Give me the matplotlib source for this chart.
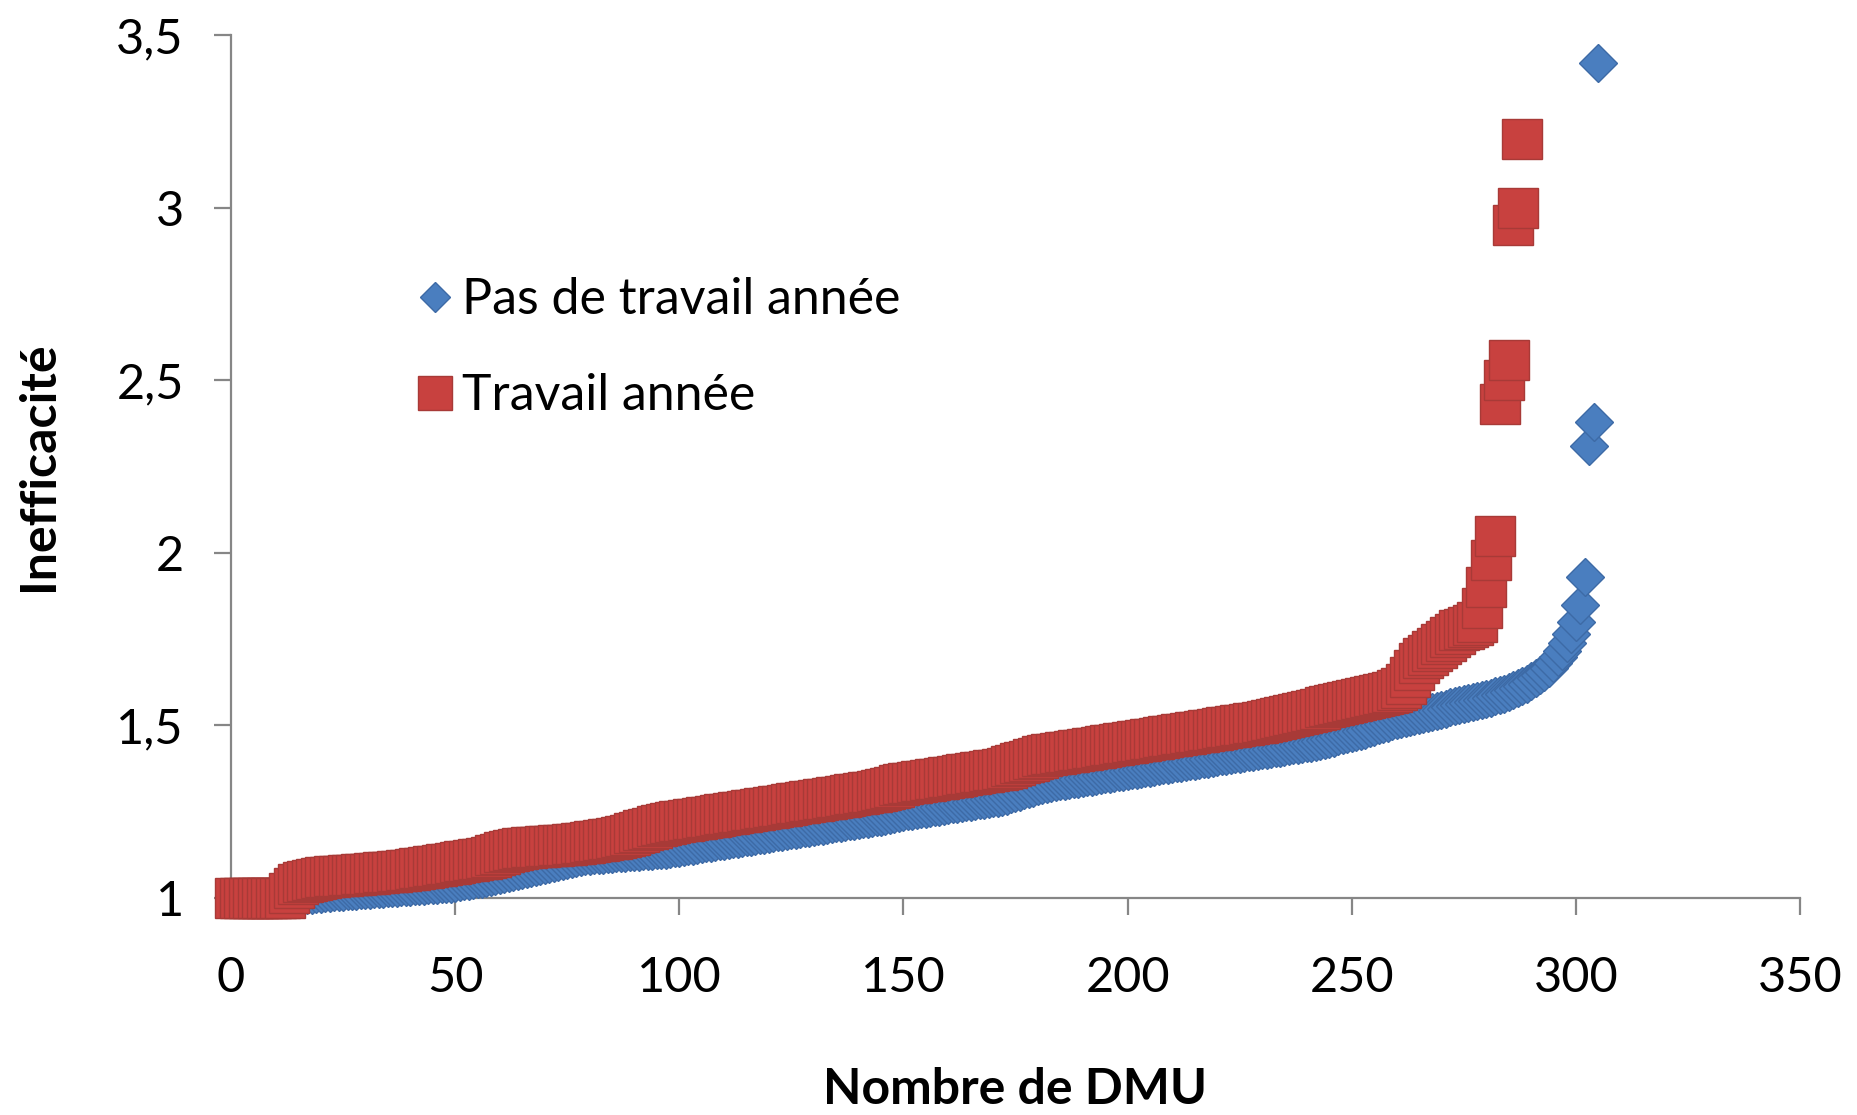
import matplotlib
matplotlib.use('Agg')
import matplotlib.pyplot as plt
from matplotlib.lines import Line2D
import numpy as np

# ---- data ----
series_names = ['Pas de travail année', 'Travail année']

blue_vals = [
    1.000, 1.000, 1.000, 1.000, 1.000, 1.000, 1.000, 1.000, 1.000, 1.000,
    1.000, 1.000, 1.000, 1.003, 1.005, 1.007, 1.009, 1.010, 1.012,
    1.013, 1.014, 1.015, 1.016, 1.017, 1.018, 1.019, 1.020, 1.021, 1.022,
    1.023, 1.024, 1.025, 1.026, 1.027, 1.028, 1.029, 1.030, 1.031, 1.032,
    1.033, 1.034, 1.035, 1.036, 1.037, 1.038, 1.039, 1.040, 1.041, 1.042,
    1.044, 1.046, 1.048, 1.050, 1.052, 1.054, 1.056, 1.058, 1.060, 1.063,
    1.066, 1.069, 1.072, 1.075, 1.078, 1.081, 1.084, 1.087, 1.090, 1.093,
    1.096, 1.099, 1.102, 1.105, 1.108, 1.111, 1.114, 1.117, 1.119, 1.121,
    1.123, 1.124, 1.125, 1.126, 1.127, 1.128, 1.129, 1.130, 1.131, 1.132,
    1.133, 1.134, 1.135, 1.136, 1.137, 1.138, 1.139, 1.140, 1.142, 1.144,
    1.146, 1.148, 1.150, 1.152, 1.154, 1.156, 1.158, 1.160, 1.162, 1.164,
    1.166, 1.168, 1.170, 1.172, 1.174, 1.176, 1.178, 1.180, 1.182, 1.184,
    1.186, 1.188, 1.190, 1.192, 1.194, 1.196, 1.198, 1.200, 1.202, 1.204,
    1.206, 1.208, 1.210, 1.212, 1.214, 1.216, 1.218, 1.220, 1.222, 1.224,
    1.226, 1.228, 1.230, 1.232, 1.234, 1.236, 1.238, 1.240, 1.243, 1.246,
    1.249, 1.251, 1.253, 1.255, 1.257, 1.259, 1.261, 1.263, 1.265, 1.267,
    1.269, 1.271, 1.273, 1.275, 1.277, 1.279, 1.281, 1.283, 1.285, 1.287,
    1.289, 1.291, 1.293, 1.296, 1.300, 1.304, 1.308, 1.312, 1.316, 1.320,
    1.324, 1.328, 1.331, 1.334, 1.336, 1.338, 1.340, 1.342, 1.344, 1.346,
    1.348, 1.350, 1.352, 1.354, 1.356, 1.358, 1.360, 1.362, 1.364, 1.366,
    1.368, 1.370, 1.372, 1.374, 1.376, 1.378, 1.380, 1.382, 1.384, 1.386,
    1.388, 1.390, 1.392, 1.394, 1.396, 1.398, 1.400, 1.402, 1.404, 1.406,
    1.408, 1.410, 1.412, 1.414, 1.416, 1.418, 1.420, 1.422, 1.424, 1.426,
    1.428, 1.430, 1.432, 1.434, 1.436, 1.438, 1.440, 1.442, 1.444, 1.446,
    1.448, 1.450, 1.453, 1.456, 1.459, 1.462, 1.465, 1.468, 1.471, 1.474,
    1.477, 1.480, 1.484, 1.488, 1.492, 1.496, 1.500, 1.504, 1.508, 1.512,
    1.516, 1.519, 1.522, 1.525, 1.528, 1.531, 1.534, 1.537, 1.540, 1.543,
    1.546, 1.549, 1.552, 1.555, 1.558, 1.561, 1.564, 1.567, 1.570, 1.573,
    1.576, 1.580, 1.584, 1.588, 1.592, 1.597, 1.602, 1.608, 1.614, 1.621,
    1.628, 1.636, 1.645, 1.655, 1.666, 1.680, 1.697, 1.716, 1.740, 1.765,
    1.800, 1.850, 1.930, 2.310, 2.380, 3.420,
]

red_vals = [
    1.000, 1.000, 1.000, 1.000, 1.000, 1.000, 1.000, 1.000, 1.000, 1.000,
    1.000, 1.000, 1.015, 1.030, 1.040, 1.045, 1.050, 1.053, 1.056, 1.058,
    1.060, 1.062, 1.063, 1.064, 1.065, 1.066, 1.067, 1.068, 1.069, 1.070,
    1.071, 1.072, 1.073, 1.074, 1.075, 1.076, 1.077, 1.078, 1.080, 1.082,
    1.084, 1.086, 1.088, 1.090, 1.092, 1.094, 1.096, 1.098, 1.100, 1.102,
    1.104, 1.106, 1.108, 1.110, 1.112, 1.114, 1.117, 1.120, 1.124, 1.128,
    1.132, 1.136, 1.140, 1.142, 1.144, 1.146, 1.147, 1.148, 1.149, 1.150,
    1.151, 1.152, 1.153, 1.154, 1.155, 1.156, 1.157, 1.158, 1.160, 1.162,
    1.164, 1.166, 1.168, 1.170, 1.172, 1.174, 1.177, 1.180, 1.184, 1.188,
    1.192, 1.196, 1.200, 1.204, 1.208, 1.211, 1.214, 1.217, 1.220, 1.222,
    1.224, 1.226, 1.228, 1.230, 1.232, 1.234, 1.236, 1.238, 1.240, 1.242,
    1.244, 1.246, 1.248, 1.250, 1.252, 1.254, 1.256, 1.258, 1.260, 1.262,
    1.264, 1.266, 1.268, 1.270, 1.272, 1.274, 1.276, 1.278, 1.280, 1.282,
    1.284, 1.286, 1.288, 1.290, 1.292, 1.294, 1.296, 1.298, 1.300, 1.302,
    1.304, 1.306, 1.308, 1.311, 1.314, 1.317, 1.320, 1.323, 1.326, 1.329,
    1.332, 1.334, 1.336, 1.338, 1.340, 1.342, 1.344, 1.346, 1.348, 1.350,
    1.352, 1.354, 1.356, 1.358, 1.360, 1.362, 1.364, 1.366, 1.368, 1.370,
    1.372, 1.375, 1.378, 1.382, 1.386, 1.390, 1.394, 1.398, 1.402, 1.406,
    1.410, 1.413, 1.416, 1.418, 1.420, 1.422, 1.424, 1.426, 1.428, 1.430,
    1.432, 1.434, 1.436, 1.438, 1.440, 1.442, 1.444, 1.446, 1.448, 1.450,
    1.452, 1.454, 1.456, 1.458, 1.460, 1.462, 1.464, 1.466, 1.468, 1.470,
    1.472, 1.474, 1.476, 1.478, 1.480, 1.482, 1.484, 1.486, 1.488, 1.490,
    1.492, 1.494, 1.496, 1.498, 1.500, 1.502, 1.504, 1.506, 1.508, 1.510,
    1.513, 1.516, 1.519, 1.522, 1.525, 1.528, 1.531, 1.534, 1.537, 1.540,
    1.543, 1.546, 1.549, 1.552, 1.555, 1.558, 1.561, 1.564, 1.567, 1.570,
    1.573, 1.576, 1.579, 1.582, 1.585, 1.588, 1.591, 1.594, 1.598, 1.602,
    1.608, 1.620, 1.640, 1.660, 1.680, 1.695, 1.705, 1.715, 1.725, 1.735,
    1.745, 1.755, 1.765, 1.775, 1.780, 1.785, 1.790, 1.800, 1.840, 1.900,
    1.980, 2.050, 2.430, 2.500, 2.560, 2.950, 3.000, 3.200,
]

x_ticks = [0, 50, 100, 150, 200, 250, 300, 350]
y_ticks = [1, 1.5, 2, 2.5, 3, 3.5]
y_tick_labels = ['1', '1,5', '2', '2,5', '3', '3,5']
x_label = 'Nombre de DMU'
y_label = 'Inefficacité'

BLUE = '#4A7EBF'
BLUE_EDGE = '#3D6AA6'
RED = '#C8413F'
RED_EDGE = '#A83A37'
AXIS_GREY = '#868686'

plt.rcParams['font.family'] = ['Lato', 'DejaVu Sans']

fig = plt.figure(figsize=(18.58, 11.15), dpi=100)
ax = fig.add_axes([0.1243, 0.1946, 0.8445, 0.774])

xb = np.arange(1, len(blue_vals) + 1)
xr = np.arange(1, len(red_vals) + 1)

ax.plot(xb, blue_vals, ls='none', marker='D', ms=19, mfc=BLUE, mec=BLUE_EDGE,
        mew=1, clip_on=False, zorder=3)
ax.plot(xr, red_vals, ls='none', marker='s', ms=29, mfc=RED, mec=RED_EDGE,
        mew=1, clip_on=False, zorder=4)

ax.set_xlim(0, 350)
ax.set_ylim(1, 3.5)
ax.set_xticks(x_ticks)
ax.set_xticklabels([str(v) for v in x_ticks])
ax.set_yticks(y_ticks)
ax.set_yticklabels(y_tick_labels)

for s in ['top', 'right']:
    ax.spines[s].set_visible(False)
for s in ['left', 'bottom']:
    ax.spines[s].set_color(AXIS_GREY)
    ax.spines[s].set_linewidth(1.6)
    ax.spines[s].set_zorder(2)

ax.tick_params(axis='both', direction='out', length=12, width=1.6,
               color=AXIS_GREY, labelsize=35, labelcolor='black')
ax.tick_params(axis='x', pad=30)
ax.tick_params(axis='y', pad=22)

ax.set_xlabel(x_label, fontsize=36, fontweight='bold', labelpad=48)
ax.set_ylabel(y_label, fontsize=36, fontweight='bold', labelpad=40)

handles = [
    Line2D([], [], ls='none', marker='D', ms=15, mfc=BLUE, mec=BLUE_EDGE, mew=1),
    Line2D([], [], ls='none', marker='s', ms=24, mfc=RED, mec=RED_EDGE, mew=1),
]
leg = fig.legend(handles, series_names, loc='center left',
                 bbox_to_anchor=(419 / 1858, 1 - 348 / 1115),
                 frameon=False, fontsize=36, handlelength=0.66,
                 handletextpad=0.2, labelspacing=1.0, borderpad=0,
                 borderaxespad=0)

fig.savefig('out.png', dpi=100, facecolor='white')
